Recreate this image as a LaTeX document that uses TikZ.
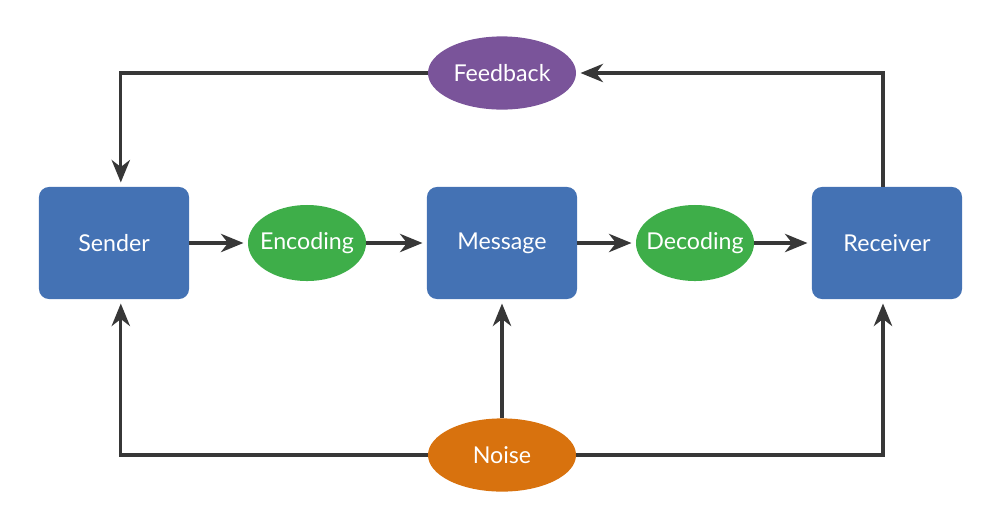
\documentclass[tikz,border=0pt]{standalone}
\usepackage{fontspec}
\setmainfont{Lato}
\usetikzlibrary{arrows.meta}
\usetikzlibrary{shapes.geometric}
\definecolor{mblue}{RGB}{68, 114, 180}
\definecolor{mgreen}{RGB}{62, 174, 73}
\definecolor{mpurple}{RGB}{122, 84, 154}
\definecolor{morange}{RGB}{216, 114, 14}
\definecolor{mgray}{RGB}{55, 55, 55}
\tikzset{arr/.style = {draw = mgray, line width = 2.4pt, shorten > = 3pt,
                       -{Stealth[length = 16pt, width = 13pt, inset = 5pt]}}}
\tikzset{block/.style = {fill = mblue, rounded corners = 0.25cm, text = white,
                         minimum width = 3.75cm, minimum height = 2.8cm,
                         font = \fontsize{16.5}{19}\selectfont}}
\tikzset{oval/.style = {ellipse, text = white, inner xsep = -12pt, inner ysep = 0pt,
                        font = \fontsize{16.5}{19}\selectfont}}
\tikzset{small/.style = {oval, minimum width = 2.95cm, minimum height = 1.9cm}}
\tikzset{large/.style = {oval, minimum width = 3.7cm, minimum height = 1.83cm}}

\begin{document}
\begin{tikzpicture}[x = 0.025cm, y = -0.025cm]
  \useasboundingbox (0, 0) rectangle (988, 529);

  \node [block] (sender) at (114, 243) {Sender};
  \node [block] (message) at (502, 243) {Message};
  \node [block] (receiver) at (887, 243) {Receiver};
  \node [small, fill = mgreen] (encoding) at (307, 243) {Encoding};
  \node [small, fill = mgreen] (decoding) at (695, 243) {Decoding};
  \node [large, fill = mpurple] (feedback) at (502, 73) {Feedback};
  \node [large, fill = morange] (noise) at (502, 455) {Noise};

  \draw [arr] (sender) -- (encoding);
  \draw [arr] (encoding) -- (message);
  \draw [arr] (message) -- (decoding);
  \draw [arr] (decoding) -- (receiver);

  \draw [arr] ([xshift = -0.1cm]receiver.north) |- (feedback.east);
  \draw [arr] (feedback.west) -| ([xshift = 0.17cm]sender.north);

  \draw [arr] (noise.west) -| ([xshift = 0.17cm]sender.south);
  \draw [arr] (noise.north) -- (message.south);
  \draw [arr] (noise.east) -| ([xshift = -0.1cm]receiver.south);
\end{tikzpicture}
\end{document}
